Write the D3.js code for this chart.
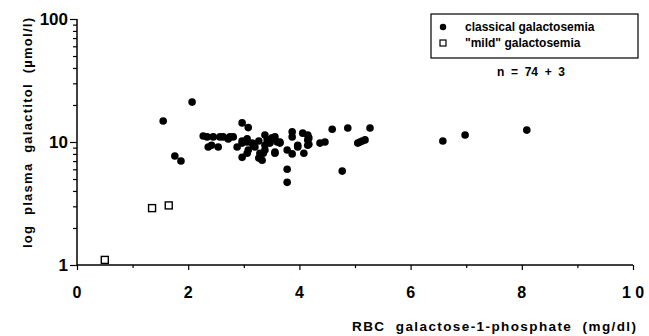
<!DOCTYPE html>
<html><head><meta charset="utf-8">
<script src="https://cdn.jsdelivr.net/npm/d3@7"></script>
<style>
body{margin:0;background:#fff;}
text{font-family:"Liberation Sans",Arial,sans-serif;font-weight:bold;fill:#000;}
</style></head>
<body><svg id="c" width="649" height="336"></svg>
<script>
const classicalX = [1.55,2.07,1.76,1.87,2.27,2.36,2.54,2.45,2.63,2.72,2.81,2.97,3.08,2.88,2.97,2.97,3.06,3.08,3.06,3.17,3.27,3.27,3.38,3.38,3.47,3.56,3.60,3.51,3.56,3.65,3.87,3.87,4.06,4.15,4.15,4.15,4.37,4.46,4.59,3.35,3.56,3.78,3.87,3.97,4.08,3.78,3.78,4.77,4.87,5.27,5.09,5.13,5.18,5.05,6.58,6.98,8.09,2.34,2.42,3.20,3.33,3.42,3.29,2.97,3.06,2.75,3.15,3.51,3.65,4.17,4.17,3.97,3.38,2.57];
const classicalY = [14.8,21.1,7.7,7.0,11.2,9.1,9.1,11.0,11.0,10.6,11.0,14.3,13.1,9.1,10.2,7.5,10.0,8.6,8.1,9.4,10.2,7.4,11.4,8.6,9.8,8.3,10.0,10.8,11.0,10.0,12.1,11.0,11.8,11.4,10.4,9.4,9.8,10.0,12.7,8.1,8.1,8.6,8.0,9.1,8.1,6.0,4.7,5.8,13.0,13.0,10.0,10.2,10.4,9.8,10.2,11.4,12.5,11.0,9.4,9.1,7.1,10.4,8.1,9.8,10.6,11.0,9.8,10.6,9.8,10.8,9.6,9.4,9.4,11.0];
const mildX = [0.5,1.35,1.65];
const mildY = [1.1,2.9,3.05];
const xTicks = [0,2,4,6,8,10];
const xTickLabels = ["0","2","4","6","8","1 0"];
const yTicks = [1,10,100];
const legendLabels = ["classical galactosemia", "\"mild\" galactosemia"];
const nLabel = "n  =  74  +  3";
const xTitle = "RBC  galactose-1-phosphate  (mg/dl)";
const yTitle = "log  plasma  galactitol  (\u00b5mol/l)";

const svg = d3.select("#c");
const L=77, R=633, T=19, B=265;
const x = d3.scaleLinear().domain([0,10]).range([L,R]);
const y = d3.scaleLog().domain([1,100]).range([B,T]);

// x axis
const gx = svg.append("g").attr("transform",`translate(0,${B})`);
gx.call(d3.axisBottom(x).tickValues(d3.range(0,11,1)).tickSize(4).tickFormat(""));
gx.selectAll(".tick line").attr("y2", d => d%2===0 ? 5 : 3).attr("stroke-width",1.2);
gx.select(".domain").attr("d",`M${L},0H${R}`).attr("stroke-width",1.5);
gx.selectAll(".tick-label").data(xTicks).enter().append("text")
  .attr("x",d=>x(d)).attr("y",33).attr("text-anchor","middle")
  .style("font-size","16px").text((d,i)=>xTickLabels[i]);

// y axis
const minor = [];
for (let d=1; d<100; d*=10) for (let k=2;k<10;k++) minor.push(d*k);
const gy = svg.append("g").attr("transform",`translate(${L},0)`);
gy.call(d3.axisLeft(y).tickValues(yTicks.concat(minor)).tickSize(5).tickFormat(""));
gy.selectAll(".tick line").attr("x2", d => yTicks.includes(d) ? -7 : -4).attr("stroke-width",1.2);
gy.select(".domain").attr("d",`M0,${B}V${T}`).attr("stroke-width",1.5);
gy.selectAll(".ylab").data(yTicks).enter().append("text")
  .attr("x",-9).attr("y",d=>y(d)+6).attr("text-anchor","end")
  .style("font-size","17px").text(d=>d);

// axis titles
svg.append("text").attr("x",352).attr("y",331)
  .style("font-size","13.5px").attr("textLength",284).attr("lengthAdjust","spacing")
  .attr("xml:space","preserve").text(xTitle);
svg.append("text").attr("transform",`translate(32,248) rotate(-90)`)
  .style("font-size","13px").attr("textLength",230).attr("lengthAdjust","spacing")
  .attr("xml:space","preserve").text(yTitle);

// points
const classical = classicalX.map((d,i)=>({x:d,y:classicalY[i]}));
const mild = mildX.map((d,i)=>({x:d,y:mildY[i]}));
svg.append("g").selectAll("circle").data(classical).enter().append("circle")
  .attr("cx",d=>x(d.x)).attr("cy",d=>y(d.y)).attr("r",3.8).attr("fill","#000");
svg.append("g").selectAll("rect").data(mild).enter().append("rect")
  .attr("x",d=>x(d.x)-3.5).attr("y",d=>y(d.y)-3.5).attr("width",7).attr("height",7)
  .attr("fill","#fff").attr("stroke","#000").attr("stroke-width",1.4);

// legend
const lg = svg.append("g");
lg.append("rect").attr("x",431).attr("y",14).attr("width",207).attr("height",44)
  .attr("fill","none").attr("stroke","#000").attr("stroke-width",1.2);
lg.append("circle").attr("cx",443).attr("cy",27).attr("r",3.2).attr("fill","#000");
lg.append("rect").attr("x",440).attr("y",40).attr("width",6).attr("height",6)
  .attr("fill","#fff").attr("stroke","#000").attr("stroke-width",1.2);
lg.selectAll(".lt").data(legendLabels).enter().append("text")
  .attr("x",465).attr("y",(d,i)=>31+i*16).style("font-size","12px").text(d=>d);
svg.append("text").attr("x",497).attr("y",76)
  .style("font-size","12px").attr("textLength",68).attr("lengthAdjust","spacing")
  .attr("xml:space","preserve").text(nLabel);
</script></body></html>
